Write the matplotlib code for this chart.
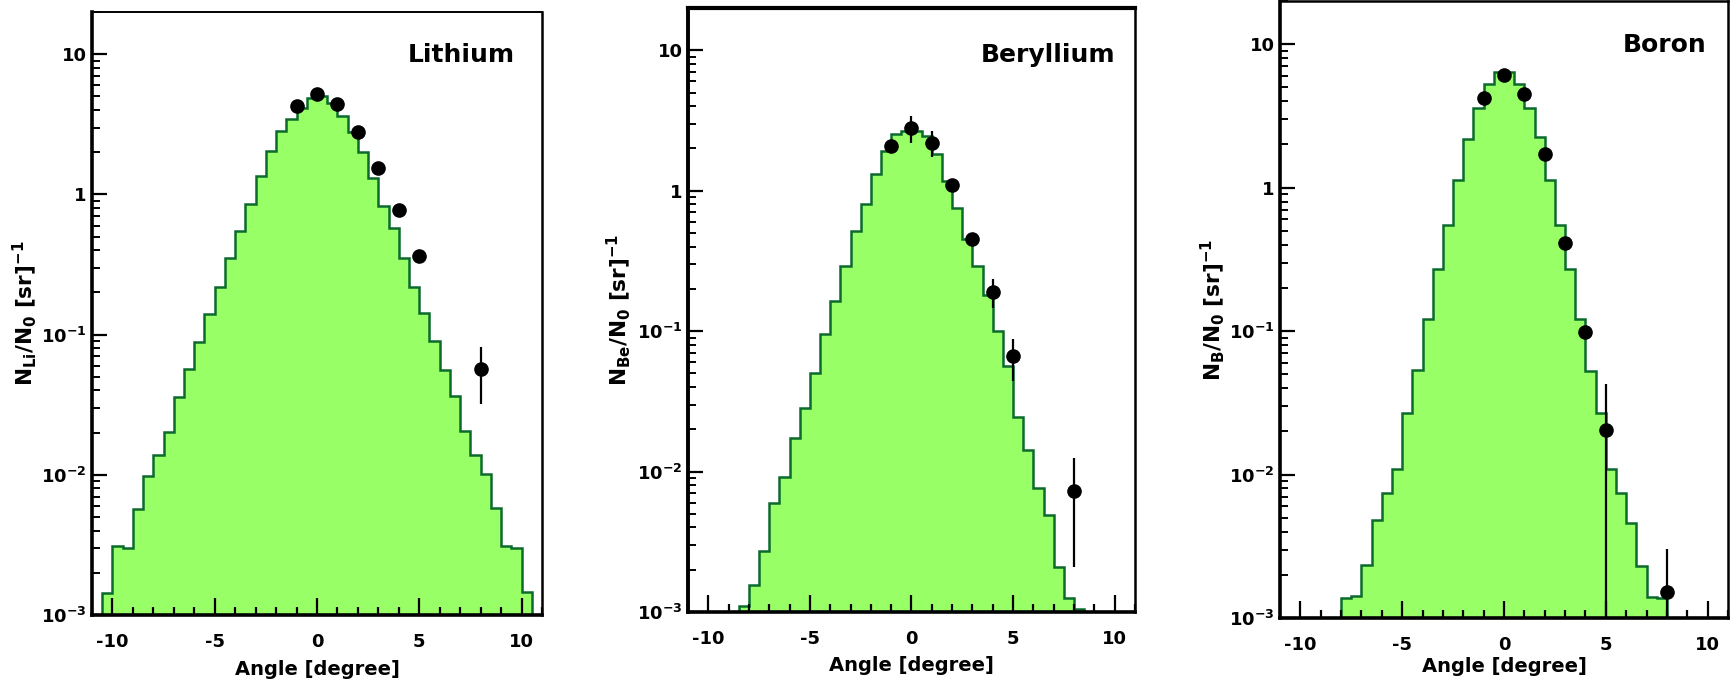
import numpy as np
import matplotlib
matplotlib.use('Agg')
import matplotlib.pyplot as plt
from matplotlib.ticker import LogLocator, MultipleLocator, FuncFormatter

plt.rcParams['font.family'] = 'DejaVu Sans'
plt.rcParams['font.weight'] = 'bold'
plt.rcParams['mathtext.default'] = 'regular'
plt.rcParams['axes.unicode_minus'] = False

# histogram (simulation), 0.5 degree bins
li_edges = np.arange(-10.5, 10.51, 0.5)
li_hist = [0.00143, 0.0031, 0.0030, 0.0057, 0.0098, 0.0138, 0.0202, 0.0358, 0.057, 0.088,
           0.140, 0.22, 0.35, 0.55, 0.85, 1.36, 2.04, 2.83, 3.45, 4.1, 4.9,
           5.07, 4.5, 3.63, 2.77, 2.01, 1.31, 0.83, 0.575, 0.35, 0.22, 0.143,
           0.090, 0.056, 0.0363, 0.0205, 0.0139, 0.0101, 0.0058, 0.0031, 0.0030, 0.00145]

be_edges = np.arange(-8.5, 8.51, 0.5)
be_hist = [0.0011, 0.00156, 0.0027, 0.0060, 0.0092, 0.0174, 0.0284, 0.0505, 0.095, 0.163,
           0.29, 0.515, 0.81, 1.31, 1.91, 2.52, 2.66,
           2.65, 2.44, 1.82, 1.17, 0.75, 0.45, 0.29, 0.18, 0.10, 0.056, 0.0246,
           0.0142, 0.0076, 0.0049, 0.0021, 0.00125, 0.00105]

b_edges = np.arange(-8.0, 8.01, 0.5)
b_hist = [0.00137, 0.00142, 0.00235, 0.0048, 0.0074, 0.011, 0.027, 0.0535, 0.122, 0.27,
          0.55, 1.13, 2.19, 3.57, 5.3, 6.36,
          6.36, 5.3, 3.57, 2.24, 1.13, 0.55, 0.27, 0.122, 0.053, 0.027, 0.011,
          0.0074, 0.0046, 0.0023, 0.0014, 0.00137]

# measured points
pt_x = [-1, 0, 1, 2, 3, 4, 5, 8]
li_y = [4.25, 5.2, 4.38, 2.79, 1.55, 0.77, 0.365, 0.057]
li_err_lo = [0.15, 0.15, 0.15, 0.1, 0.06, 0.04, 0.02, 0.025]
li_err_hi = [0.15, 0.15, 0.15, 0.1, 0.06, 0.04, 0.02, 0.025]
be_y = [2.08, 2.8, 2.2, 1.1, 0.45, 0.19, 0.066, 0.0073]
be_err_lo = [0.15, 0.6, 0.45, 0.08, 0.04, 0.045, 0.022, 0.0052]
be_err_hi = [0.15, 0.6, 0.45, 0.08, 0.04, 0.045, 0.022, 0.0052]
b_y = [4.2, 6.1, 4.5, 1.71, 0.41, 0.099, 0.0204, 0.00153]
b_err_lo = [0.2, 0.3, 0.2, 0.1, 0.03, 0.01, 0.0204, 0.00153]
b_err_hi = [0.2, 0.3, 0.2, 0.1, 0.03, 0.01, 0.0224, 0.0015]

panels = [
    dict(name='Lithium', ylabel='N$_{Li}$/N$_{0}$ [sr]$^{-1}$', edges=li_edges, hist=li_hist,
         y=li_y, lo=li_err_lo, hi=li_err_hi,
         rect=[92, 12, 542, 615], name_xy=(0.94, 0.929), ylab_x=-0.150, xlab_y=-0.091,
         spines=dict(left=2.6, bottom=2.6, top=1.4, right=1.8)),
    dict(name='Beryllium', ylabel='N$_{Be}$/N$_{0}$ [sr]$^{-1}$', edges=be_edges, hist=be_hist,
         y=be_y, lo=be_err_lo, hi=be_err_hi,
         rect=[688, 8, 1135, 612], name_xy=(0.955, 0.922), ylab_x=-0.156, xlab_y=-0.089,
         spines=dict(left=2.8, bottom=2.6, top=3.0, right=1.8)),
    dict(name='Boron', ylabel='N$_{B}$/N$_{0}$ [sr]$^{-1}$', edges=b_edges, hist=b_hist,
         y=b_y, lo=b_err_lo, hi=b_err_hi,
         rect=[1280, 1, 1728, 618], name_xy=(0.953, 0.929), ylab_x=-0.150, xlab_y=-0.079,
         spines=dict(left=2.6, bottom=2.6, top=1.8, right=1.8)),
]

W, H = 1733, 687
fig = plt.figure(figsize=(W / 100, H / 100), dpi=100)

fill_green = '#99ff66'
line_green = '#0b6a2c'


def log_label(v, pos):
    if v >= 1:
        return '%d' % round(v)
    return '$10^{%d}$' % round(np.log10(v))


for p in panels:
    l, t, r, b = p['rect']
    ax = fig.add_axes([l / W, (H - b) / H, (r - l) / W, (b - t) / H])
    ax.set_yscale('log')

    ax.stairs(p['hist'], p['edges'], baseline=1e-6, fill=True, color=fill_green, zorder=1)
    ax.stairs(p['hist'], p['edges'], baseline=1e-6, color=line_green, lw=1.8, zorder=1.5)

    ax.errorbar(pt_x, p['y'], yerr=[p['lo'], p['hi']], fmt='o', color='black',
                ms=9.5, elinewidth=1.6, capsize=0, zorder=3)

    ax.set_xlim(-11, 11)
    ax.set_ylim(1e-3, 20)

    ax.xaxis.set_major_locator(MultipleLocator(5))
    ax.xaxis.set_minor_locator(MultipleLocator(1))
    ax.yaxis.set_major_locator(LogLocator(base=10, numticks=10))
    ax.yaxis.set_minor_locator(LogLocator(base=10, subs=np.arange(2, 10), numticks=20))
    ax.yaxis.set_major_formatter(FuncFormatter(log_label))
    ax.yaxis.set_minor_formatter(FuncFormatter(lambda v, pos: ''))

    ax.tick_params(axis='x', which='major', direction='in', length=12, width=1.6,
                   labelsize=13, pad=13, top=False)
    ax.tick_params(axis='x', which='minor', direction='in', length=6, width=1.6, top=False)
    ax.tick_params(axis='y', which='major', direction='in', length=11, width=1.6,
                   labelsize=13, pad=4, right=False)
    ax.tick_params(axis='y', which='minor', direction='in', length=5.5, width=1.4, right=False)

    for side, w in p['spines'].items():
        ax.spines[side].set_linewidth(w)

    ax.set_xlabel('Angle [degree]', fontsize=14, fontweight='bold', va='center')
    ax.xaxis.set_label_coords(0.5, p['xlab_y'])
    ax.set_ylabel(p['ylabel'], fontsize=15.5, fontweight='bold', va='center')
    ax.yaxis.set_label_coords(p['ylab_x'], 0.5)

    ax.text(p['name_xy'][0], p['name_xy'][1], p['name'], transform=ax.transAxes,
            ha='right', va='center', fontsize=18, fontweight='bold')

fig.savefig('out.png', dpi=100)
